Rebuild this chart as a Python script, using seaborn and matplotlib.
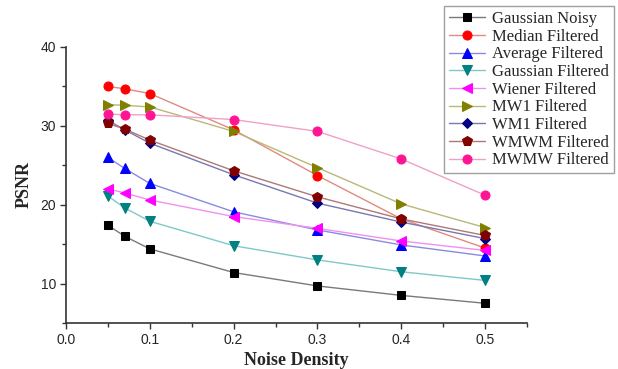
import matplotlib
matplotlib.use("Agg")
import matplotlib.pyplot as plt
import seaborn as sns
import pandas as pd
from matplotlib.ticker import MultipleLocator

noise_density = [0.05, 0.07, 0.1, 0.2, 0.3, 0.4, 0.5]
gaussian_noisy = [17.4, 16.0, 14.4, 11.4, 9.7, 8.5, 7.5]
median_filtered = [35.0, 34.7, 34.1, 29.5, 23.7, 18.2, 14.5]
average_filtered = [26.0, 24.6, 22.7, 19.1, 16.8, 14.9, 13.5]
gaussian_filtered = [21.1, 19.6, 17.9, 14.8, 13.0, 11.5, 10.4]
wiener_filtered = [22.0, 21.5, 20.6, 18.5, 17.0, 15.4, 14.2]
mw1_filtered = [32.7, 32.6, 32.4, 29.3, 24.7, 20.1, 17.1]
wm1_filtered = [30.7, 29.5, 27.8, 23.8, 20.2, 17.8, 15.7]
wmwm_filtered = [30.3, 29.6, 28.2, 24.3, 21.0, 18.2, 16.1]
mwmw_filtered = [31.5, 31.4, 31.4, 30.8, 29.3, 25.8, 21.2]

series_names = ["Gaussian Noisy", "Median Filtered", "Average Filtered",
                "Gaussian Filtered", "Wiener Filtered", "MW1 Filtered",
                "WM1 Filtered", "WMWM Filtered", "MWMW Filtered"]
series_values = [gaussian_noisy, median_filtered, average_filtered,
                 gaussian_filtered, wiener_filtered, mw1_filtered,
                 wm1_filtered, wmwm_filtered, mwmw_filtered]
marker_colors = ["#000000", "#FF0000", "#0000FF", "#008080", "#FF00FF",
                 "#808000", "#000080", "#800000", "#FF1493"]
line_colors = ["#7a7a7a", "#e08a80", "#8a8ae0", "#80c8c8", "#f090f0",
               "#b8b878", "#7878b0", "#b07878", "#f0a0c8"]
markers = ["s", "o", "^", "v", "<", ">", "D", "p", "o"]
msizes = [5.5, 6.5, 6.5, 6.5, 6.5, 6.5, 5.5, 7, 6.5]

rows = []
for name, vals in zip(series_names, series_values):
    for x, y in zip(noise_density, vals):
        rows.append({"Noise Density": x, "PSNR": y, "series": name})
df = pd.DataFrame(rows)

sns.set_style("white")
fig = plt.figure(figsize=(6.18, 3.69), dpi=100)
ax = fig.add_axes([66/618, 1-323/369, (527-66)/618, (323-47)/369])

for name, lc, mc, mk, ms in zip(series_names, line_colors, marker_colors, markers, msizes):
    sub = df[df["series"] == name]
    sns.lineplot(data=sub, x="Noise Density", y="PSNR", ax=ax, color=lc,
                 marker=mk, markersize=ms, markerfacecolor=mc, markeredgecolor=mc,
                 linewidth=1.0, label=name)

ax.set_xlim(0, 0.55)
ax.set_ylim(5, 40)
ax.xaxis.set_major_locator(MultipleLocator(0.1))
ax.xaxis.set_minor_locator(MultipleLocator(0.05))
ax.yaxis.set_major_locator(MultipleLocator(10))
ax.yaxis.set_minor_locator(MultipleLocator(5))
ax.tick_params(which="both", direction="out", length=4, width=1, color="#333333",
               left=True, bottom=True, labelsize=10, pad=3)
ax.tick_params(which="minor", length=3)
for lab in ax.get_xticklabels() + ax.get_yticklabels():
    lab.set_fontfamily("Liberation Sans")
for s in ["top", "right"]:
    ax.spines[s].set_visible(False)
for s in ["left", "bottom"]:
    ax.spines[s].set_color("#333333")
    ax.spines[s].set_linewidth(1.2)

ax.set_xlabel("Noise Density", fontfamily="Liberation Serif", fontweight="bold", fontsize=13, labelpad=4)
ax.set_ylabel("PSNR", fontfamily="Liberation Serif", fontweight="bold", fontsize=13, labelpad=6)

handles, labels = ax.get_legend_handles_labels()
ax.legend_.remove()
leg = fig.legend(handles, labels, loc="upper right", bbox_to_anchor=(614/618, 1-6/369),
                 prop={"family": "Liberation Serif", "size": 12}, frameon=True,
                 fancybox=False, edgecolor="#888888", borderpad=0.3, labelspacing=0.1,
                 handlelength=2.2, handletextpad=0.4, borderaxespad=0)
leg.get_frame().set_linewidth(1.0)

fig.savefig("out.png", dpi=100)
